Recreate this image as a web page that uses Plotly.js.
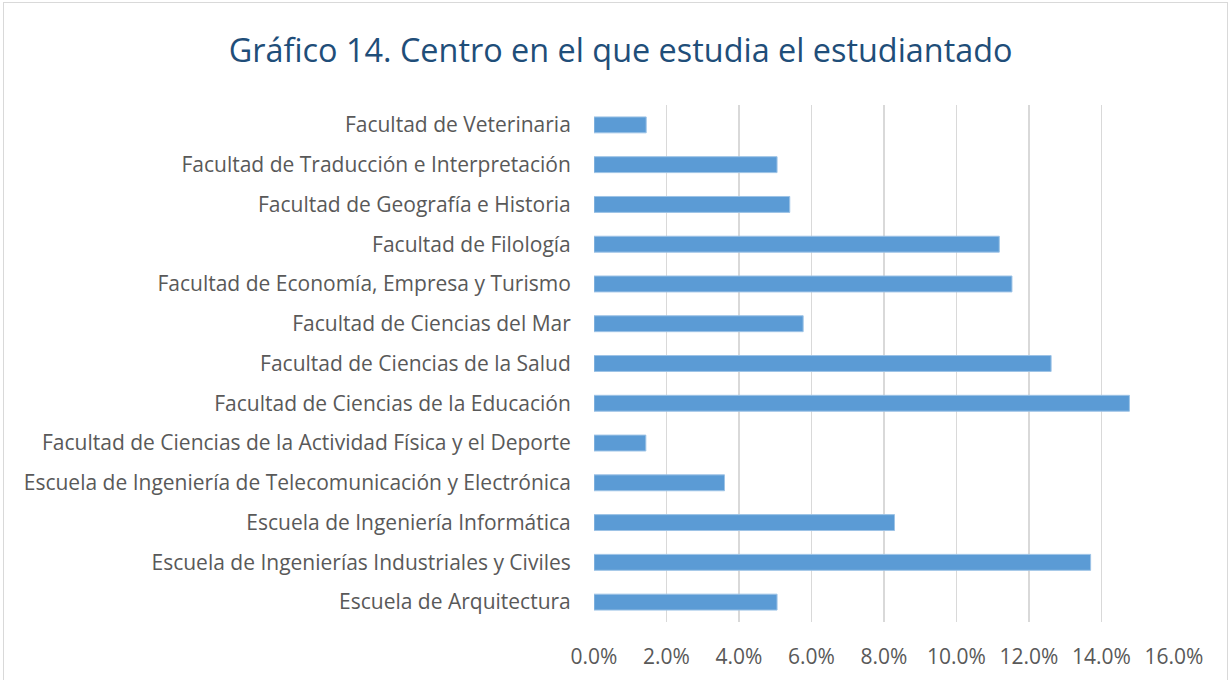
<!DOCTYPE html>
<html>
<head>
<meta charset="utf-8">
<script src="https://cdn.plot.ly/plotly-3.0.1.min.js"></script>
<style>
  body { margin: 0; padding: 0; background: #fff; }
  #chart { position: absolute; left: 0; top: 0; width: 1229px; height: 680px; }
  #frame { position: absolute; left: 3px; top: 2px; width: 1223px; height: 690px; border: 1px solid #D9D9D9; pointer-events: none; }
</style>
</head>
<body>
<div id="chart"></div>
<div id="frame"></div>
<script>
const categories = [
  "Escuela de Arquitectura",
  "Escuela de Ingenierías Industriales y Civiles",
  "Escuela de Ingeniería Informática",
  "Escuela de Ingeniería de Telecomunicación y Electrónica",
  "Facultad de Ciencias de la Actividad Física y el Deporte",
  "Facultad de Ciencias de la Educación",
  "Facultad de Ciencias de la Salud",
  "Facultad de Ciencias del Mar",
  "Facultad de Economía, Empresa y Turismo",
  "Facultad de Filología",
  "Facultad de Geografía e Historia",
  "Facultad de Traducción e Interpretación",
  "Facultad de Veterinaria"
];
const values = [0.0505, 0.137, 0.0829, 0.036, 0.0143, 0.1477, 0.1261, 0.0577, 0.1153, 0.1118, 0.054, 0.0505, 0.0144];
const tickVals = [0, 0.02, 0.04, 0.06, 0.08, 0.10, 0.12, 0.14, 0.16];
const tickLabels = ["0.0%", "2.0%", "4.0%", "6.0%", "8.0%", "10.0%", "12.0%", "14.0%", "16.0%"];
const chartTitle = "Gráfico 14. Centro en el que estudia el estudiantado";

const font = "'Open Sans', Lato, sans-serif";

Plotly.newPlot("chart", [{
  type: "bar",
  orientation: "h",
  y: categories,
  x: values,
  marker: { color: "#5B9BD5", line: { color: "#9DC3E6", width: 1 } },
  hoverinfo: "x+y"
}], {
  width: 1229,
  height: 680,
  margin: { l: 594, r: 55, t: 105, b: 58 },
  paper_bgcolor: "rgba(0,0,0,0)",
  plot_bgcolor: "#fff",
  bargap: 0.6,
  showlegend: false,
  title: {
    text: chartTitle,
    font: { family: font, size: 32.4, color: "#1F4E79" },
    x: 0.505, xanchor: "center",
    y: 0.926, yanchor: "middle", yref: "container"
  },
  xaxis: {
    range: [0, 0.16],
    tickvals: tickVals,
    ticktext: tickLabels,
    showgrid: true,
    gridcolor: "#D9D9D9",
    gridwidth: 1.6,
    zeroline: false,
    showline: false,
    ticks: "outside",
    ticklen: 16,
    tickcolor: "rgba(0,0,0,0)",
    tickfont: { family: font, size: 21, color: "#595959" },
    fixedrange: true
  },
  yaxis: {
    type: "category",
    categoryorder: "array",
    categoryarray: categories,
    showgrid: false,
    zeroline: false,
    showline: false,
    ticks: "outside",
    ticklen: 18,
    tickcolor: "rgba(0,0,0,0)",
    tickfont: { family: font, size: 21, color: "#595959" },
    automargin: false,
    fixedrange: true
  }
}, { displayModeBar: false, staticPlot: true });
</script>
</body>
</html>
